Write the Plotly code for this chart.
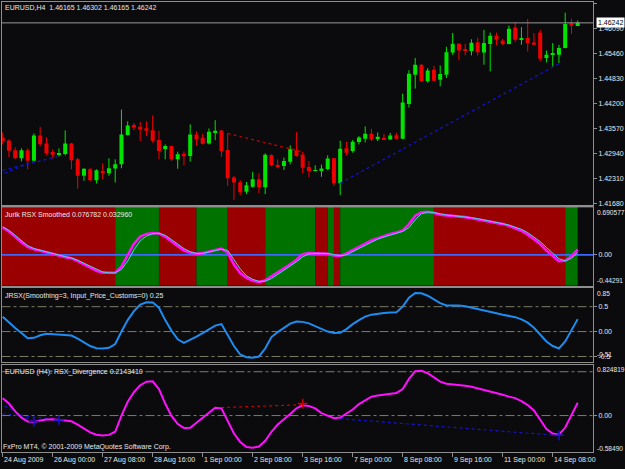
import plotly.graph_objects as go

# ---------------- data ----------------
opens = [1.43343,1.43268,1.43016,1.42814,1.43016,1.42751,1.43394,1.43192,1.42973,1.42902,
         1.42923,1.43192,1.42789,1.42373,1.42537,1.42260,1.42494,1.42436,1.42555,1.42663,
         1.43406,1.43658,1.43613,1.43578,1.43527,1.43275,1.43074,1.43124,1.42789,1.42928,
         1.42872,1.43419,1.43336,1.43192,1.43477,1.43520,1.43023,1.42328,1.42209,1.41965,
         1.42096,1.42285,1.42083,1.42897,1.42638,1.42620,1.42726,1.43016,1.42902,1.42595,
         1.42494,1.42494,1.42545,1.42814,1.42184,1.43066,1.42998,1.43225,1.43311,1.43437,
         1.43306,1.43336,1.43293,1.43401,1.43311,1.44188,1.44931,1.45183,1.44762,1.45057,
         1.44805,1.44931,1.45493,1.45712,1.45579,1.45528,1.45750,1.45493,1.45705,1.45914,
         1.45795,1.45705,1.46123,1.45813,1.45856,1.45745,1.45997,1.45352,1.45435,1.45435,
         1.45604,1.46234,1.46165]
highs = [1.43469,1.43293,1.43091,1.43066,1.43066,1.43444,1.43608,1.43343,1.43041,1.43066,
         1.43520,1.43205,1.42827,1.42562,1.42575,1.42537,1.42688,1.42814,1.42789,1.44049,
         1.43747,1.43709,1.43734,1.43754,1.43898,1.43507,1.43167,1.43134,1.42983,1.42991,
         1.43671,1.43495,1.43432,1.43570,1.43779,1.43532,1.43444,1.42368,1.42260,1.42217,
         1.42469,1.42436,1.42940,1.42915,1.42789,1.42832,1.43142,1.43477,1.42978,1.42746,
         1.42638,1.42655,1.42890,1.42827,1.43260,1.43235,1.43275,1.43376,1.43621,1.43558,
         1.43469,1.43432,1.43457,1.43462,1.44452,1.45044,1.45352,1.45196,1.45095,1.45158,
         1.45165,1.45637,1.45989,1.45725,1.45712,1.45826,1.45871,1.46065,1.45997,1.45997,
         1.45838,1.46173,1.46259,1.46133,1.46342,1.45982,1.46065,1.45543,1.45730,1.45687,
         1.46501,1.46342,1.46302]
lows = [1.43167,1.42839,1.42789,1.42739,1.42537,1.42739,1.43117,1.42890,1.42814,1.42865,
        1.42890,1.42537,1.42046,1.42247,1.42242,1.42177,1.42285,1.42373,1.42202,1.42562,
        1.43394,1.43520,1.43250,1.43376,1.43210,1.42789,1.42789,1.42746,1.42550,1.42638,
        1.42731,1.43129,1.43167,1.43167,1.43275,1.42852,1.42116,1.41756,1.41882,1.41907,
        1.42071,1.41932,1.41907,1.42613,1.42562,1.42519,1.42663,1.42857,1.42436,1.42335,
        1.42487,1.42348,1.42512,1.42116,1.41882,1.42882,1.42958,1.43167,1.43217,1.43250,
        1.43250,1.43280,1.43280,1.43293,1.43306,1.44099,1.44578,1.44755,1.44729,1.44767,
        1.44636,1.44848,1.45435,1.45291,1.45417,1.45417,1.45417,1.45183,1.45014,1.45669,
        1.45687,1.45700,1.45755,1.45687,1.45518,1.45679,1.45266,1.45241,1.45140,1.45226,
        1.45599,1.45964,1.46165]
closes = [1.43243,1.43003,1.42814,1.43016,1.42751,1.43394,1.43167,1.42940,1.42902,1.42940,
          1.43192,1.42764,1.42373,1.42550,1.42260,1.42512,1.42436,1.42562,1.42663,1.43419,
          1.43646,1.43595,1.43545,1.43512,1.43260,1.42998,1.43124,1.42789,1.42915,1.42865,
          1.43419,1.43293,1.43185,1.43487,1.43512,1.42998,1.42310,1.42202,1.41957,1.42134,
          1.42285,1.42083,1.42907,1.42638,1.42595,1.42746,1.43041,1.42872,1.42575,1.42494,
          1.42517,1.42555,1.42807,1.42184,1.43059,1.42958,1.43235,1.43343,1.43437,1.43293,
          1.43361,1.43293,1.43394,1.43311,1.44225,1.44956,1.45183,1.44762,1.45039,1.44780,
          1.44949,1.45498,1.45712,1.45543,1.45536,1.45737,1.45498,1.45730,1.45914,1.45813,
          1.45705,1.46090,1.45813,1.45856,1.45730,1.45687,1.45334,1.45435,1.45478,1.45604,
          1.46216,1.46166,1.46242]
bar_index = list(range(len(closes)))

date_positions = [0, 8, 16, 24, 32, 40, 48, 56, 64, 72, 80, 88]
date_labels = ["24 Aug 2009", "26 Aug 00:00", "27 Aug 08:00", "28 Aug 16:00", "1 Sep 00:00",
               "2 Sep 08:00", "3 Sep 16:00", "7 Sep 00:00", "8 Sep 08:00", "9 Sep 16:00",
               "11 Sep 00:00", "14 Sep 08:00"]
price_ticks = [1.46735, 1.46090, 1.45460, 1.44830, 1.44200, 1.43570, 1.42940, 1.42310, 1.41680]

# divergence lines on the price chart: start idx, start price, end idx, end price, colour
price_div_x0 = [0.0, 0.3, 36, 54]
price_div_y0 = [1.42512, 1.42440, 1.43444, 1.42184]
price_div_x1 = [9, 5, 48, 89]
price_div_y1 = [1.42865, 1.42739, 1.42978, 1.45208]
price_div_col = ["blue", "blue", "red", "blue"]

# Jurik RSX smoothed
rsx_main = [0.394,0.335,0.26,0.18,0.115,0.08,0.06,0.04,0.02,-0.01,
            -0.035,-0.05,-0.09,-0.14,-0.185,-0.23,-0.255,-0.26,-0.256,-0.17,
            -0.01,0.16,0.26,0.3,0.313,0.305,0.26,0.19,0.12,0.06,
            0.03,0.014,0.025,0.05,0.07,0.09,0.03,-0.14,-0.26,-0.33,
            -0.37,-0.39,-0.366,-0.31,-0.25,-0.195,-0.135,-0.07,0.01,0.025,
            0.024,0.024,0.015,-0.01,-0.015,0.02,0.07,0.11,0.16,0.205,
            0.24,0.27,0.30,0.32,0.35,0.44,0.56,0.61,0.615,0.6,
            0.574,0.565,0.56,0.55,0.54,0.525,0.51,0.495,0.475,0.455,
            0.44,0.415,0.385,0.345,0.29,0.22,0.155,0.06,-0.02,-0.09,
            -0.085,-0.02,0.076782]
rsx_signal = [0.40,0.35,0.28,0.20,0.13,0.09,0.065,0.045,0.025,0.0,
              -0.025,-0.045,-0.075,-0.12,-0.165,-0.21,-0.245,-0.258,-0.258,-0.21,
              -0.09,0.07,0.2,0.27,0.3,0.31,0.28,0.22,0.15,0.09,
              0.045,0.02,0.02,0.038,0.06,0.08,0.065,-0.06,-0.2,-0.3,
              -0.35,-0.38,-0.378,-0.34,-0.28,-0.22,-0.165,-0.1,-0.03,0.015,
              0.022,0.024,0.02,0.002,-0.012,0.0,0.045,0.09,0.135,0.185,
              0.225,0.255,0.285,0.31,0.335,0.39,0.5,0.59,0.612,0.607,
              0.585,0.57,0.562,0.555,0.545,0.532,0.518,0.503,0.485,0.465,
              0.447,0.427,0.4,0.365,0.318,0.255,0.19,0.105,0.02,-0.055,
              -0.087,-0.05,0.032960]
rsx_max, rsx_min = 0.690577, -0.44291
band_start = [-0.5, 18, 25, 31, 36, 42, 50, 52, 53, 54, 69, 90]
band_end = [18, 25, 31, 36, 42, 50, 52, 53, 54, 69, 90, 92]
band_trend = ["dn", "up", "dn", "up", "dn", "up", "dn", "up", "dn", "up", "dn", "up"]

# JRSX
jrsx = [0.30,0.18,0.07,-0.03,-0.135,-0.125,-0.075,-0.045,-0.055,-0.075,
        -0.073,-0.08,-0.14,-0.215,-0.29,-0.335,-0.34,-0.325,-0.25,0.0,
        0.23,0.41,0.54,0.59,0.585,0.48,0.23,0.02,-0.155,-0.225,
        -0.17,-0.1,-0.03,0.045,0.12,0.15,-0.06,-0.29,-0.46,-0.515,
        -0.525,-0.5,-0.34,-0.11,-0.01,0.08,0.16,0.2,0.195,0.165,
        0.11,0.04,0.0,-0.03,-0.025,0.05,0.15,0.23,0.3,0.34,
        0.365,0.375,0.385,0.39,0.5,0.68,0.775,0.77,0.72,0.64,
        0.57,0.525,0.527,0.525,0.51,0.485,0.45,0.42,0.395,0.37,
        0.34,0.315,0.29,0.245,0.18,0.075,-0.06,-0.2,-0.29,-0.34,
        -0.2,0.02,0.25]
jrsx_levels = [0.5, 0.0, -0.5]
jrsx_max, jrsx_min = 0.85, -0.51

# RSX divergence
rsx_div = [0.29,0.2,0.07,-0.035,-0.1,-0.108,-0.082,-0.065,-0.062,-0.07,
           -0.08,-0.095,-0.15,-0.22,-0.28,-0.32,-0.334,-0.322,-0.27,0.0,
           0.23,0.39,0.505,0.565,0.57,0.44,0.2,-0.005,-0.14,-0.208,
           -0.205,-0.12,-0.035,0.05,0.13,0.12,-0.08,-0.3,-0.44,-0.525,
           -0.535,-0.515,-0.42,-0.27,-0.15,-0.07,0.025,0.12,0.17,0.158,
           0.12,0.04,0.0,-0.044,-0.033,0.03,0.1,0.19,0.26,0.315,
           0.335,0.35,0.36,0.377,0.44,0.61,0.738,0.748,0.705,0.63,
           0.565,0.53,0.523,0.515,0.497,0.48,0.455,0.428,0.405,0.378,
           0.345,0.315,0.29,0.24,0.175,0.085,-0.072,-0.225,-0.3,-0.318,
           -0.2,0.01,0.214341]
div_levels = [0.73, 0.0]
div_max, div_min = 0.824819, -0.58490
div_line_x0 = [0.0, 0.3, 34, 53]
div_line_y0 = [0.03, 0.16, 0.13, -0.044]
div_line_x1 = [9, 5, 48, 89]
div_line_y1 = [-0.072, -0.108, 0.18, -0.334]
div_line_col = ["blue", "blue", "red", "blue"]
div_arrow_x = [5, 9, 48, 89]
div_arrow_y = [-0.1, -0.072, 0.2, -0.33]
div_arrow_col = ["blue", "blue", "red", "blue"]

# ---------------- styling ----------------
W, H = 625, 469
BG = "#0b0b0d"
BORDER = "#8e8e8e"
TXT = "#e8e8e8"
FONT = "Liberation Sans, Arial, sans-serif"
UP, DN = "#00e400", "#ee0000"
LINE_COL = {"blue": "#1414d2", "red": "#c80000"}
BAND_COL = {"up": "#007200", "dn": "#9b0000"}
LEVEL_COL = "#7c7c68"

X0_PX, X1_PX = 1.5, 593.0
BAR0_PX, BAR_STEP = 2.7, 6.25
xr = [(X0_PX - BAR0_PX) / BAR_STEP, (X1_PX - BAR0_PX) / BAR_STEP]
panels = [(2.0, 205.5), (207.5, 287.0), (289.5, 364.0), (366.5, 454.0)]
# y ranges chosen so that the values land on the reference pixels
def px_range(v_a, py_a, v_b, py_b, top, bot):
    s = (v_a - v_b) / (py_b - py_a)
    return [v_b - (bot - py_b) * s, v_a + (py_a - top) * s]

yr1 = px_range(1.46090, 29.0, 1.41680, 204.0, *panels[0])
yr2 = [rsx_min, rsx_max]
yr3 = px_range(0.5, 308.0, 0.0, 333.0, *panels[2])
yr4 = px_range(div_max, 367.6, div_min, 452.6, *panels[3])

fig = go.Figure()

# candles: wicks then bodies
for col, cond in ((UP, True), (DN, False)):
    wx, wy = [], []
    for i, o, h, l, c in zip(bar_index, opens, highs, lows, closes):
        if (c >= o) == cond:
            wx += [i, i, None]
            wy += [l, h, None]
    fig.add_trace(go.Scatter(x=wx, y=wy, mode="lines", line=dict(color=col, width=1),
                             xaxis="x", yaxis="y", hoverinfo="skip"))
fig.add_trace(go.Bar(x=bar_index,
                     y=[max(abs(c - o), 0.00018) for o, c in zip(opens, closes)],
                     base=[min(o, c) for o, c in zip(opens, closes)],
                     width=0.64, marker=dict(color=[UP if c >= o else DN for o, c in zip(opens, closes)],
                                             line=dict(width=0)),
                     xaxis="x", yaxis="y", hoverinfo="skip"))
for x0, y0, x1, y1, cl in zip(price_div_x0, price_div_y0, price_div_x1, price_div_y1, price_div_col):
    fig.add_trace(go.Scatter(x=[x0, x1], y=[y0, y1], mode="lines",
                             line=dict(color=LINE_COL[cl], width=1.2, dash="dot"),
                             xaxis="x", yaxis="y", hoverinfo="skip"))

# panel 2: trend bands + lines
fig.add_trace(go.Bar(x=[(s + e) / 2 for s, e in zip(band_start, band_end)],
                     width=[e - s for s, e in zip(band_start, band_end)],
                     y=[rsx_max - rsx_min] * len(band_start), base=rsx_min,
                     marker=dict(color=[BAND_COL[t] for t in band_trend], line=dict(width=0)),
                     xaxis="x2", yaxis="y2", hoverinfo="skip"))
fig.add_trace(go.Scatter(x=[xr[0], xr[1]], y=[0, 0], mode="lines", line=dict(color="#3a68ff", width=1.6),
                         xaxis="x2", yaxis="y2", hoverinfo="skip"))
fig.add_trace(go.Scatter(x=[xr[0], xr[1]], y=[rsx_max, rsx_max], mode="lines",
                         line=dict(color="#b4c8f0", width=1.2), xaxis="x2", yaxis="y2", hoverinfo="skip"))
fig.add_trace(go.Scatter(x=bar_index, y=rsx_main, mode="lines", line=dict(color="#ff10ff", width=2.6),
                         xaxis="x2", yaxis="y2", hoverinfo="skip"))
fig.add_trace(go.Scatter(x=bar_index, y=rsx_signal, mode="lines", line=dict(color="#4fd0e0", width=1),
                         xaxis="x2", yaxis="y2", hoverinfo="skip"))

# panel 3: JRSX
for lv in jrsx_levels:
    fig.add_trace(go.Scatter(x=[xr[0], xr[1]], y=[lv, lv], mode="lines",
                             line=dict(color=LEVEL_COL, width=1, dash="dashdot"),
                             xaxis="x3", yaxis="y3", hoverinfo="skip"))
fig.add_trace(go.Scatter(x=bar_index, y=jrsx, mode="lines", line=dict(color="#1e8cf0", width=2),
                         xaxis="x3", yaxis="y3", hoverinfo="skip"))

# panel 4: RSX divergence
for lv in div_levels:
    fig.add_trace(go.Scatter(x=[xr[0], xr[1]], y=[lv, lv], mode="lines",
                             line=dict(color=LEVEL_COL, width=1, dash="dashdot"),
                             xaxis="x4", yaxis="y4", hoverinfo="skip"))
for x0, y0, x1, y1, cl in zip(div_line_x0, div_line_y0, div_line_x1, div_line_y1, div_line_col):
    fig.add_trace(go.Scatter(x=[x0, x1], y=[y0, y1], mode="lines",
                             line=dict(color=LINE_COL[cl], width=1.2, dash="dot"),
                             xaxis="x4", yaxis="y4", hoverinfo="skip"))
fig.add_trace(go.Scatter(x=bar_index, y=rsx_div, mode="lines", line=dict(color="#ff10ff", width=2),
                         xaxis="x4", yaxis="y4", hoverinfo="skip"))
fig.add_trace(go.Scatter(x=div_arrow_x, y=div_arrow_y, mode="markers",
                         marker=dict(symbol="cross-thin", size=7,
                                     line=dict(color=[LINE_COL[c] for c in div_arrow_col], width=1.5)),
                         xaxis="x4", yaxis="y4", hoverinfo="skip"))

# ---------------- layout ----------------
tickfont = dict(family=FONT, size=7, color=TXT)
small_font = dict(family=FONT, size=6.6, color=TXT)
layout = dict(width=W, height=H, margin=dict(l=0, r=0, t=0, b=0), autosize=False,
              paper_bgcolor=BG, plot_bgcolor=BG, showlegend=False, barmode="overlay",
              hovermode=False)
yranges = [yr1, yr2, yr3, yr4]
yticks = [(price_ticks, [f"{v:.5f}" for v in price_ticks]),
          ([0.0], ["0.00"]),
          ([0.5, 0.0, -0.5], ["0.5", "0.00", "-0.5"]),
          ([0.0], ["0.00"])]
for k, (top, bot) in enumerate(panels, start=1):
    s = "" if k == 1 else str(k)
    xa = dict(domain=[X0_PX / W, X1_PX / W], range=xr, anchor="y" + s, showgrid=False, zeroline=False,
              showline=True, mirror=True, linecolor=BORDER, linewidth=1, showticklabels=False,
              fixedrange=True)
    if k > 1:
        xa["matches"] = "x"
    if k == 4:
        xa.update(ticks="outside", ticklen=4, tickcolor=BORDER, tickvals=date_positions)
    layout["xaxis" + s] = xa
    tv, tt = yticks[k - 1]
    layout["yaxis" + s] = dict(domain=[1 - bot / H, 1 - top / H], range=yranges[k - 1], side="right",
                               anchor="x" + s, showgrid=False, zeroline=False, showline=True,
                               mirror=True, linecolor=BORDER, linewidth=1, ticks="outside",
                               ticklen=3, tickcolor=BORDER, tickvals=tv, ticktext=tt,
                               tickfont=tickfont, fixedrange=True)

ann = []
def label(text, px_x, px_y):
    ann.append(dict(text=text, xref="paper", yref="paper", x=px_x / W, y=1 - px_y / H,
                    xanchor="left", yanchor="middle", showarrow=False, font=tickfont, borderpad=0))

label(f"EURUSD,H4  {opens[-1]:.5f} {highs[-1]:.5f} {lows[-1]:.5f} {closes[-1]:.5f}", 4, 8)
label(f"Jurik RSX Smoothed {rsx_main[-1]:.6f} {rsx_signal[-1]:.6f}", 4, 215)
label(f"JRSX(Smoothing=3, Input_Price_Customs=0) {jrsx[-1]:.2f}", 4, 297)
label(f"EURUSD (H4): RSX_Divergence {rsx_div[-1]:.7f}", 4, 374)
label("FxPro MT4, © 2001-2009 MetaQuotes Software Corp.", 2, 449)

def axis_label(text, yref, val, shift):
    ann.append(dict(text=text, xref="paper", yref=yref, x=595.5 / W, y=val, yshift=shift,
                    xanchor="left", yanchor="middle", showarrow=False, font=small_font, borderpad=0))

axis_label(f"{rsx_max:.6f}", "y2", rsx_max, -5.5)
axis_label(f"{rsx_min:.5f}", "y2", rsx_min, 5)
axis_label(f"{jrsx_max:.2f}", "y3", jrsx_max, -4)
axis_label(f"{jrsx_min:.2f}", "y3", jrsx_min, 2)
axis_label(f"{div_max:.6f}", "y4", div_max, -3.5)
axis_label(f"{div_min:.5f}", "y4", div_min, 2.5)

# current price line and box
layout["shapes"] = [dict(type="line", xref="x domain", yref="y", x0=0, x1=1,
                         y0=closes[-1], y1=closes[-1], line=dict(color="#9a9a9a", width=1))]
ann.append(dict(text=f"{closes[-1]:.5f}", xref="paper", yref="y", x=595.5 / W, y=closes[-1],
                xanchor="left", yanchor="middle", showarrow=False, bgcolor="#ffffff",
                font=dict(family=FONT, size=7, color="#000000"), borderpad=1))

# date labels (left-aligned at their ticks, MT4 style)
for pos, txt in zip(date_positions, date_labels):
    ann.append(dict(text=txt, xref="x4", yref="paper", x=pos, y=1 - 462 / H, xanchor="left",
                    yanchor="middle", showarrow=False, font=tickfont, borderpad=0))

layout["annotations"] = ann
fig.update_layout(**layout)
fig.write_html("out.html", config={"displayModeBar": False})
